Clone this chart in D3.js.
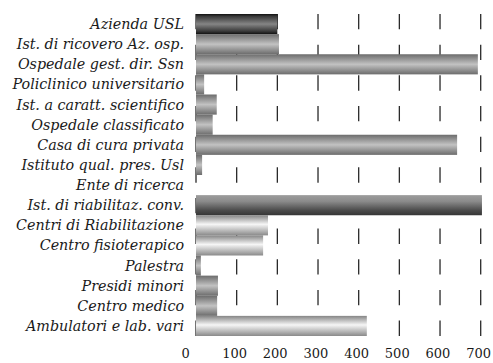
<!DOCTYPE html>
<html>
<head>
<meta charset="utf-8">
<script src="https://cdn.jsdelivr.net/npm/d3@7"></script>
<style>
  html, body { margin: 0; padding: 0; background: #fff; }
  svg { display: block; }
</style>
</head>
<body>
<svg id="chart" width="493" height="363"></svg>
<script>
// Strutture sanitarie: numero per tipologia
const categories = [
  "Azienda USL",
  "Ist. di ricovero Az. osp.",
  "Ospedale gest. dir. Ssn",
  "Policlinico universitario",
  "Ist. a caratt. scientifico",
  "Ospedale classificato",
  "Casa di cura privata",
  "Istituto qual. pres. Usl",
  "Ente di ricerca",
  "Ist. di riabilitaz. conv.",
  "Centri di Riabilitazione",
  "Centro fisioterapico",
  "Palestra",
  "Presidi minori",
  "Centro medico",
  "Ambulatori e lab. vari"
];
const values = [200, 204, 693, 20, 51, 41, 642, 15, 0, 703, 177, 165, 12, 54, 52, 420];
const tickValues = [0, 100, 200, 300, 400, 500, 600, 700];

// shading used for each bar (gradient ids defined below)
const shades = ["dark", "cyl", "cyl", "cyl", "cyl", "cyl", "cyl", "cyl", "cyl",
                "flip", "bright", "bright", "cyl", "cyl", "cyl", "bright"];

const svg = d3.select("#chart");

const x = d3.scaleLinear().domain([0, 700]).range([196, 480.7]);
const y = d3.scaleBand().domain(categories).range([14, 336]).padding(0);

// vertical cylinder-like gradients
const defs = svg.append("defs");
const gradients = {
  dark:   [[0, "#111"], [0.12, "#3a3a3a"], [0.5, "#858585"], [0.85, "#3a3a3a"], [1, "#111"]],
  cyl:    [[0, "#6c6c6c"], [0.5, "#c2c2c2"], [1, "#6c6c6c"]],
  bright: [[0, "#858585"], [0.45, "#f6f6f6"], [1, "#8a8a8a"]],
  flip:   [[0, "#9c9c9c"], [0.3, "#8c8c8c"], [0.75, "#4c4c4c"], [1, "#353535"]]
};
Object.entries(gradients).forEach(([id, stops]) => {
  const g = defs.append("linearGradient")
    .attr("id", "g-" + id)
    .attr("x1", 0).attr("y1", 0).attr("x2", 0).attr("y2", 1);
  stops.forEach(([o, c]) => g.append("stop").attr("offset", o).attr("stop-color", c));
});

// dashed vertical grid lines behind the bars
svg.append("g")
  .selectAll("line")
  .data(tickValues)
  .join("line")
  .attr("x1", d => x(d)).attr("x2", d => x(d))
  .attr("y1", y.range()[0]).attr("y2", y.range()[1])
  .attr("stroke", "#2a2a2a")
  .attr("stroke-width", 1.3)
  .attr("stroke-dasharray", "15.33 15.33");

// bars
svg.append("g")
  .selectAll("rect")
  .data(categories)
  .join("rect")
  .attr("x", x(0))
  .attr("y", d => y(d))
  .attr("width", (d, i) => x(values[i]) - x(0))
  .attr("height", y.bandwidth())
  .attr("fill", (d, i) => `url(#g-${shades[i]})`);

// category labels
svg.append("g")
  .selectAll("text")
  .data(categories)
  .join("text")
  .attr("x", 184)
  .attr("y", d => y(d) + y.bandwidth() / 2)
  .attr("dy", "0.35em")
  .attr("text-anchor", "end")
  .attr("font-family", "DejaVu Serif")
  .attr("font-style", "italic")
  .attr("font-size", 14.3)
  .attr("fill", "#1a1a1a")
  .text(d => d);

// value axis labels
svg.append("g")
  .selectAll("text")
  .data(tickValues)
  .join("text")
  .attr("x", d => x(d) - 14.5)
  .attr("y", 358)
  .attr("text-anchor", "start")
  .attr("font-family", "DejaVu Serif")
  .attr("font-size", 13)
  .attr("fill", "#1a1a1a")
  .text(d => d);
</script>
</body>
</html>
